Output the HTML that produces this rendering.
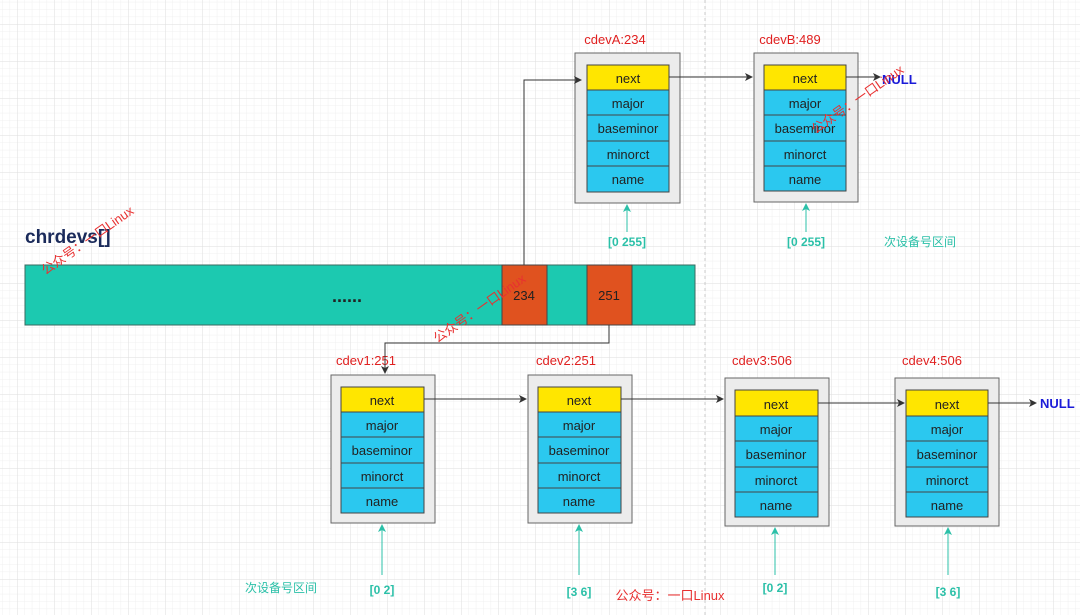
<!DOCTYPE html>
<html><head><meta charset="utf-8"><style>
html,body{margin:0;padding:0;background:#fff}
svg{display:block}
text{font-family:"Liberation Sans","Noto Sans CJK SC",sans-serif}
</style></head><body>
<svg width="1080" height="615" viewBox="0 0 1080 615" xmlns="http://www.w3.org/2000/svg">
<defs>
<pattern id="minor" x="17" y="24" width="7.4" height="7.4" patternUnits="userSpaceOnUse"><path d="M0 0H7.4M0 0V7.4" stroke="#f0f0f0" stroke-width="1" fill="none"/></pattern>
<pattern id="major" x="17" y="24" width="37" height="37" patternUnits="userSpaceOnUse"><path d="M0 0H37M0 0V37" stroke="#dedede" stroke-width="1" fill="none"/></pattern>
<marker id="ah" markerWidth="8" markerHeight="8" refX="7" refY="4" orient="auto" markerUnits="userSpaceOnUse"><path d="M0 0L8 4L0 8L2 4Z" fill="#333"/></marker>
<marker id="tah" markerWidth="8" markerHeight="8" refX="7" refY="4" orient="auto" markerUnits="userSpaceOnUse"><path d="M0 0L8 4L0 8L2 4Z" fill="#2bc0a8"/></marker>
</defs>
<rect width="1080" height="615" fill="url(#minor)"/>
<rect width="1080" height="615" fill="url(#major)"/>
<line x1="705" y1="0" x2="705" y2="615" stroke="#ccc" stroke-dasharray="3,3"/>

<!-- array -->
<text x="25" y="243" font-size="19" font-weight="bold" fill="#1a2a5a">chrdevs[]</text>
<rect x="25" y="265" width="670" height="60" fill="#1cc9b0" stroke="#3a6a60"/>
<rect x="502" y="265" width="45" height="60" fill="#e0521f" stroke="#444"/>
<rect x="587" y="265" width="45" height="60" fill="#e0521f" stroke="#444"/>
<text x="524" y="300" font-size="13" text-anchor="middle" fill="#222">234</text>
<text x="609" y="300" font-size="13" text-anchor="middle" fill="#222">251</text>
<text x="347" y="302" font-size="18" font-weight="bold" text-anchor="middle" fill="#222">......</text>

<!-- struct boxes -->
<g font-size="13" text-anchor="middle" fill="#222" stroke="none">
<text x="615" y="44" fill="#e02020">cdevA:234</text>
<rect x="575" y="53" width="105" height="150" fill="#ececec" stroke="#666"/>
<g transform="translate(587,65)">
<rect width="82" height="25" fill="#ffe600" stroke="#444"/><rect y="25" width="82" height="25" fill="#2bc8ef" stroke="#444"/><rect y="50" width="82" height="26" fill="#2bc8ef" stroke="#444"/><rect y="76" width="82" height="25" fill="#2bc8ef" stroke="#444"/><rect y="101" width="82" height="26" fill="#2bc8ef" stroke="#444"/>
<text x="41" y="18">next</text><text x="41" y="43">major</text><text x="41" y="68">baseminor</text><text x="41" y="94">minorct</text><text x="41" y="119">name</text></g>
<text x="790" y="44" fill="#e02020">cdevB:489</text>
<rect x="754" y="53" width="104" height="149" fill="#ececec" stroke="#666"/>
<g transform="translate(764,65)">
<rect width="82" height="25" fill="#ffe600" stroke="#444"/><rect y="25" width="82" height="25" fill="#2bc8ef" stroke="#444"/><rect y="50" width="82" height="26" fill="#2bc8ef" stroke="#444"/><rect y="76" width="82" height="25" fill="#2bc8ef" stroke="#444"/><rect y="101" width="82" height="25" fill="#2bc8ef" stroke="#444"/>
<text x="41" y="18">next</text><text x="41" y="43">major</text><text x="41" y="68">baseminor</text><text x="41" y="94">minorct</text><text x="41" y="119">name</text></g>
<text x="366" y="365" fill="#e02020">cdev1:251</text>
<rect x="331" y="375" width="104" height="148" fill="#ececec" stroke="#666"/>
<g transform="translate(341,387)">
<rect width="83" height="25" fill="#ffe600" stroke="#444"/><rect y="25" width="83" height="25" fill="#2bc8ef" stroke="#444"/><rect y="50" width="83" height="26" fill="#2bc8ef" stroke="#444"/><rect y="76" width="83" height="25" fill="#2bc8ef" stroke="#444"/><rect y="101" width="83" height="25" fill="#2bc8ef" stroke="#444"/>
<text x="41" y="18">next</text><text x="41" y="43">major</text><text x="41" y="68">baseminor</text><text x="41" y="94">minorct</text><text x="41" y="119">name</text></g>
<text x="566" y="365" fill="#e02020">cdev2:251</text>
<rect x="528" y="375" width="104" height="148" fill="#ececec" stroke="#666"/>
<g transform="translate(538,387)">
<rect width="83" height="25" fill="#ffe600" stroke="#444"/><rect y="25" width="83" height="25" fill="#2bc8ef" stroke="#444"/><rect y="50" width="83" height="26" fill="#2bc8ef" stroke="#444"/><rect y="76" width="83" height="25" fill="#2bc8ef" stroke="#444"/><rect y="101" width="83" height="25" fill="#2bc8ef" stroke="#444"/>
<text x="41" y="18">next</text><text x="41" y="43">major</text><text x="41" y="68">baseminor</text><text x="41" y="94">minorct</text><text x="41" y="119">name</text></g>
<text x="762" y="365" fill="#e02020">cdev3:506</text>
<rect x="725" y="378" width="104" height="148" fill="#ececec" stroke="#666"/>
<g transform="translate(735,390)">
<rect width="83" height="26" fill="#ffe600" stroke="#444"/><rect y="26" width="83" height="25" fill="#2bc8ef" stroke="#444"/><rect y="51" width="83" height="26" fill="#2bc8ef" stroke="#444"/><rect y="77" width="83" height="25" fill="#2bc8ef" stroke="#444"/><rect y="102" width="83" height="25" fill="#2bc8ef" stroke="#444"/>
<text x="41" y="19">next</text><text x="41" y="44">major</text><text x="41" y="69">baseminor</text><text x="41" y="95">minorct</text><text x="41" y="120">name</text></g>
<text x="932" y="365" fill="#e02020">cdev4:506</text>
<rect x="895" y="378" width="104" height="148" fill="#ececec" stroke="#666"/>
<g transform="translate(906,390)">
<rect width="82" height="26" fill="#ffe600" stroke="#444"/><rect y="26" width="82" height="25" fill="#2bc8ef" stroke="#444"/><rect y="51" width="82" height="26" fill="#2bc8ef" stroke="#444"/><rect y="77" width="82" height="25" fill="#2bc8ef" stroke="#444"/><rect y="102" width="82" height="25" fill="#2bc8ef" stroke="#444"/>
<text x="41" y="19">next</text><text x="41" y="44">major</text><text x="41" y="69">baseminor</text><text x="41" y="95">minorct</text><text x="41" y="120">name</text></g>
</g>

<!-- connectors (drawn after boxes) -->
<path d="M524 265V80H581" stroke="#333" fill="none" marker-end="url(#ah)"/>
<path d="M609 325V343H385V373" stroke="#333" fill="none" marker-end="url(#ah)"/>
<path d="M669 77H752" stroke="#333" fill="none" marker-end="url(#ah)"/>
<path d="M846 77H880" stroke="#333" fill="none" marker-end="url(#ah)"/>
<text x="882" y="84" font-size="13" font-weight="bold" fill="#1a1ad8">NULL</text>
<path d="M424 399H526" stroke="#333" fill="none" marker-end="url(#ah)"/>
<path d="M621 399H723" stroke="#333" fill="none" marker-end="url(#ah)"/>
<path d="M818 403H904" stroke="#333" fill="none" marker-end="url(#ah)"/>
<path d="M988 403H1036" stroke="#333" fill="none" marker-end="url(#ah)"/>
<text x="1040" y="408" font-size="13" font-weight="bold" fill="#1a1ad8">NULL</text>

<!-- teal range arrows -->
<g stroke="#2bc0a8" fill="none">
<path d="M627 232V205" marker-end="url(#tah)"/>
<path d="M806 232V204" marker-end="url(#tah)"/>
<path d="M382 575V525" marker-end="url(#tah)"/>
<path d="M579 575V525" marker-end="url(#tah)"/>
<path d="M775 575V528" marker-end="url(#tah)"/>
<path d="M948 575V528" marker-end="url(#tah)"/>
</g>
<g font-size="12" font-weight="bold" fill="#2bc0a8" text-anchor="middle">
<text x="627" y="246">[0 255]</text>
<text x="806" y="246">[0 255]</text>
<text x="382" y="594">[0 2]</text>
<text x="579" y="596">[3 6]</text>
<text x="775" y="592">[0 2]</text>
<text x="948" y="596">[3 6]</text>
</g>
<text x="920" y="246" font-size="12" fill="#2bc0a8" text-anchor="middle">次设备号区间</text>
<text x="281" y="592" font-size="12" fill="#2bc0a8" text-anchor="middle">次设备号区间</text>

<!-- watermarks -->
<g font-size="13" fill="#e83030" text-anchor="middle">
<text x="670" y="600">公众号：一口Linux</text>
<text transform="translate(90,244) rotate(-35)">公众号：一口Linux</text>
<text transform="translate(482,312) rotate(-35)">公众号：一口Linux</text>
<text transform="translate(860,103) rotate(-35)">公众号：一口Linux</text>
</g>
</svg>
</body></html>
